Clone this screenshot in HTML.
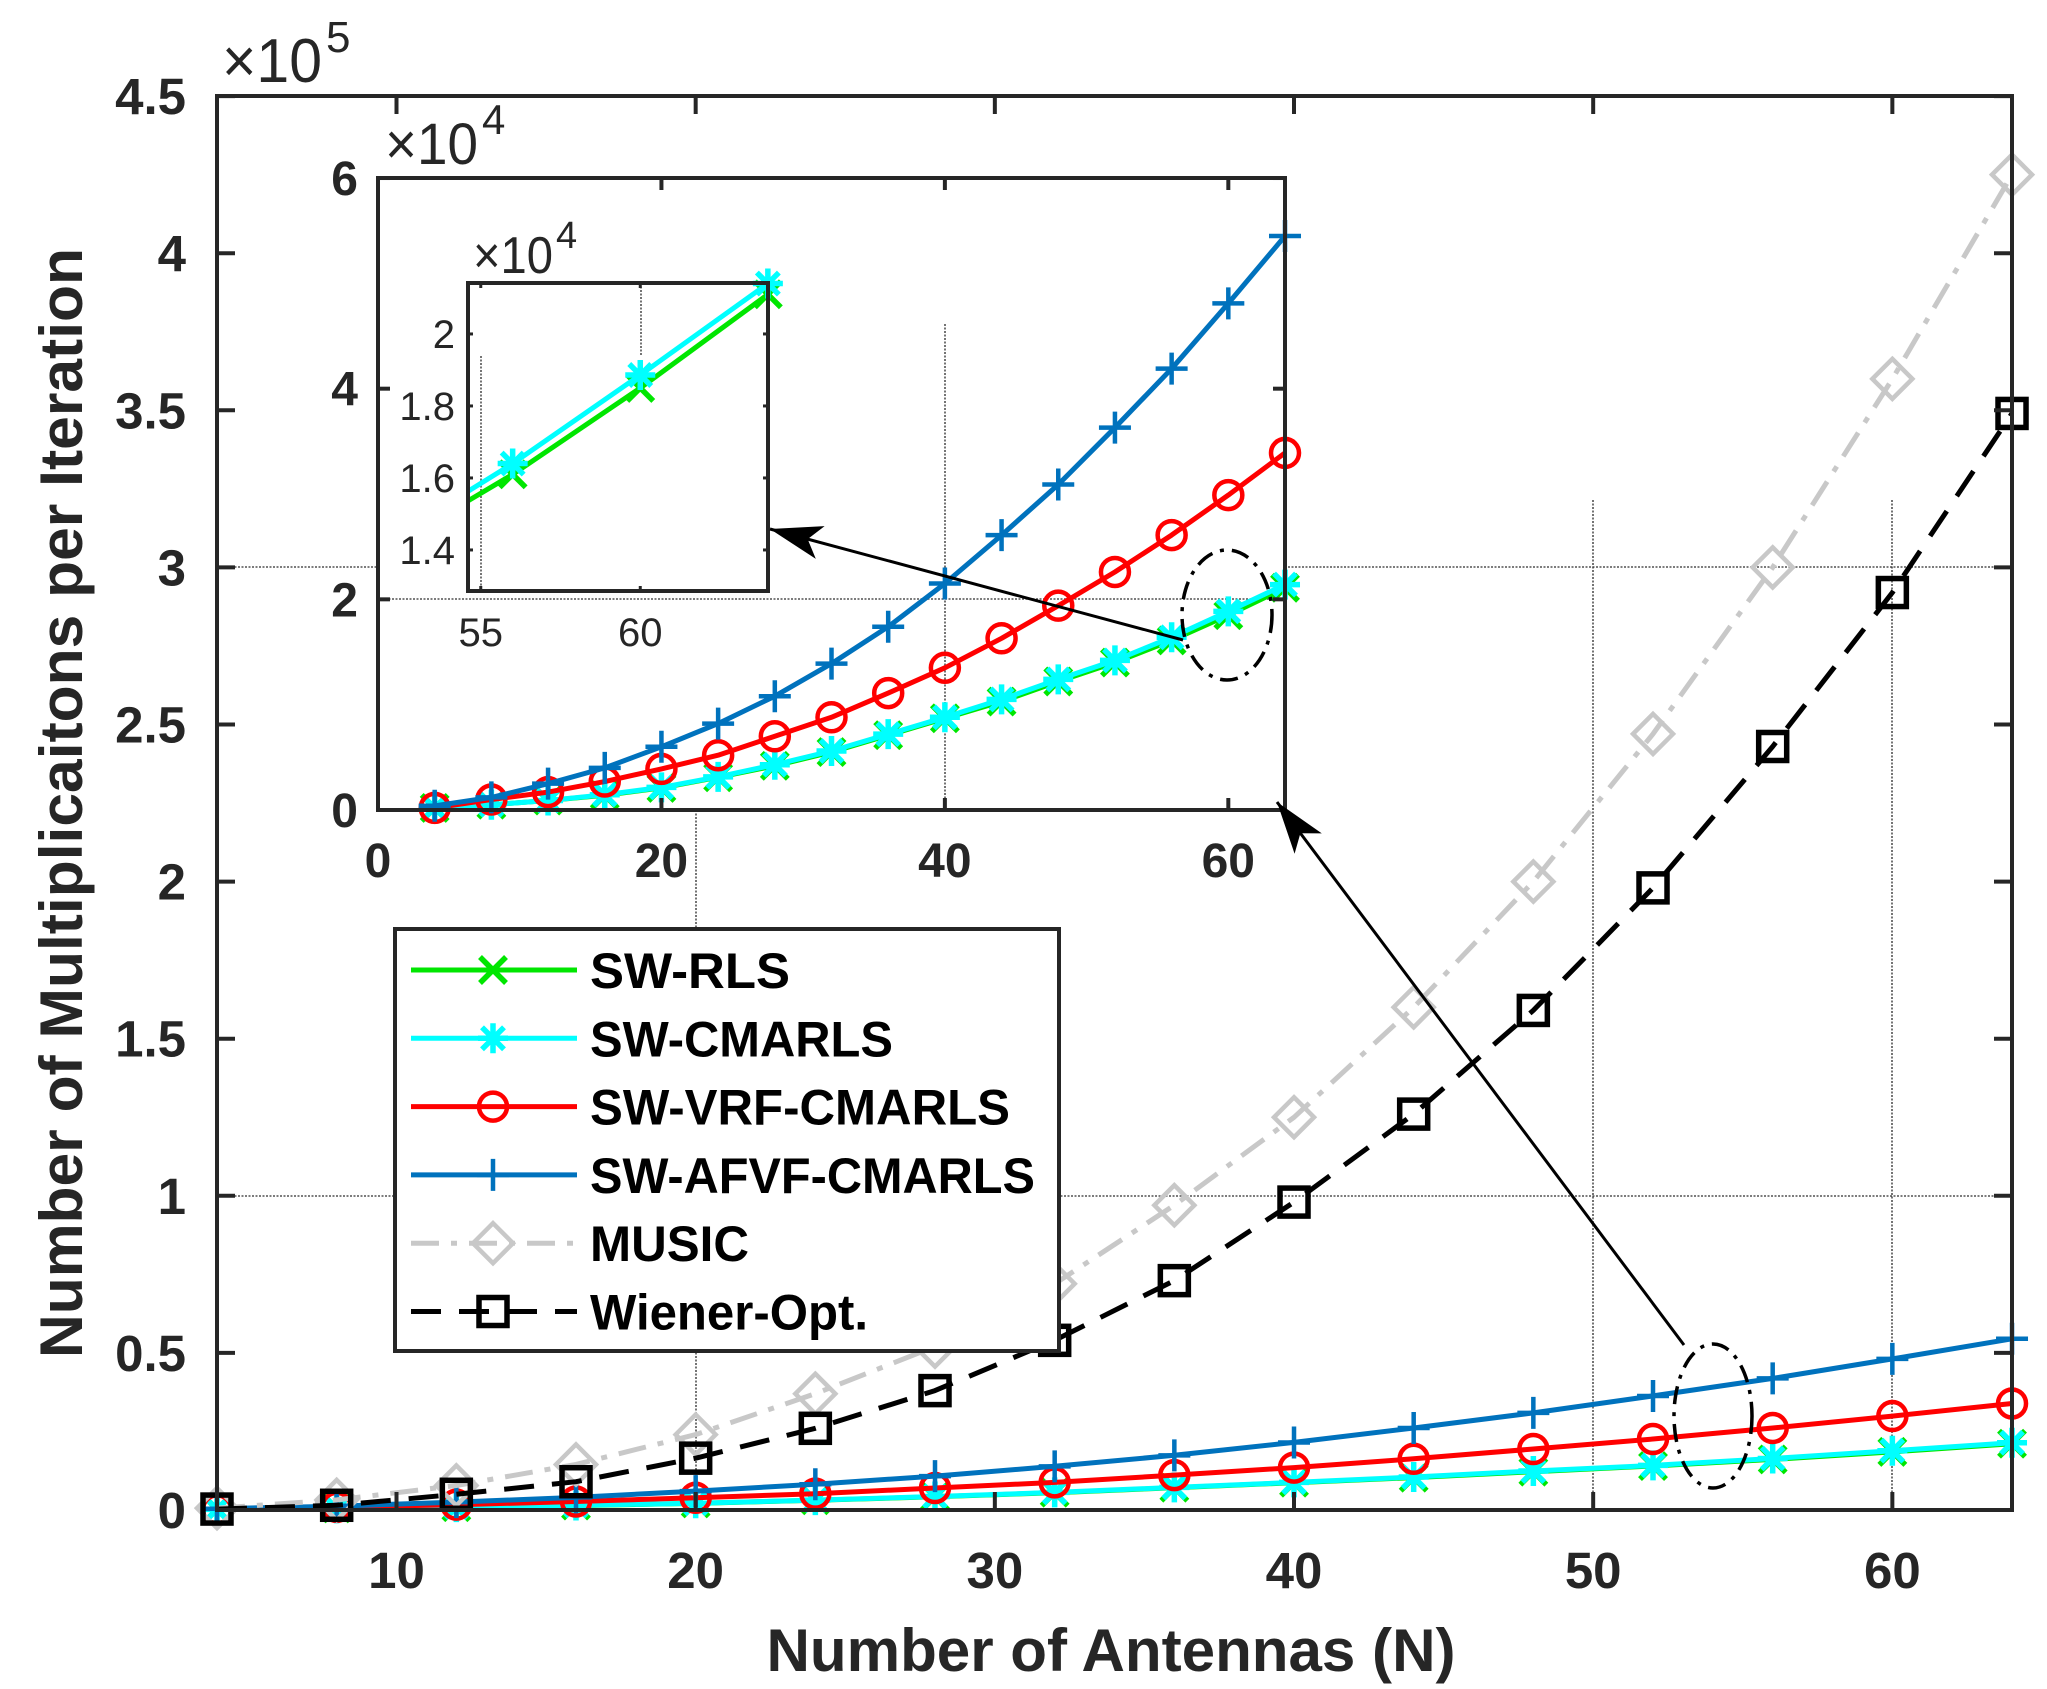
<!DOCTYPE html>
<html><head><meta charset="utf-8"><style>
html,body{margin:0;padding:0;background:#fff;}
svg{display:block;font-family:"Liberation Sans",Arial,sans-serif;}
</style></head><body>
<svg id="s" xmlns="http://www.w3.org/2000/svg" width="2047" height="1689" viewBox="0 0 2047 1689">
<defs>
<clipPath id="cSub"><rect x="468" y="283" width="300" height="308"/></clipPath>
</defs>
<rect width="2047" height="1689" fill="#fff"/>
<g id="g"></g>
</svg>
<script>
const NS="http://www.w3.org/2000/svg";
const G=document.getElementById('g');
function el(t,a,p){const e=document.createElementNS(NS,t);for(const k in a)e.setAttribute(k,a[k]);(p||G).appendChild(e);return e;}
function txt(x,y,s,a){const e=el('text',Object.assign({x:x,y:y,fill:'#262626'},a));e.textContent=s;return e;}
const Ns=[];for(let n=4;n<=64;n+=4)Ns.push(n);
const AF=[0.04,0.12,0.25,0.40,0.60,0.82,1.08,1.39,1.74,2.15,2.61,3.09,3.63,4.19,4.81,5.45];
const VR=[0.02,0.10,0.17,0.27,0.39,0.52,0.70,0.88,1.11,1.35,1.63,1.94,2.26,2.61,2.99,3.39];
const RL=[0.02,0.05,0.09,0.14,0.21,0.31,0.42,0.55,0.71,0.87,1.03,1.22,1.40,1.61,1.85,2.11];
const CM=[0.02,0.05,0.09,0.145,0.215,0.315,0.43,0.56,0.72,0.88,1.05,1.24,1.42,1.64,1.886,2.14];
const MU=[0.006,0.032,0.078,0.145,0.24,0.37,0.52,0.72,0.97,1.25,1.6,2.0,2.47,3.0,3.6,4.25];
const WI=[0.003,0.015,0.05,0.09,0.165,0.26,0.38,0.54,0.73,0.98,1.26,1.59,1.98,2.43,2.92,3.49];
const GREEN='#00e600',CYAN='#00ffff',RED='#ff0000',BLUE='#0072bd',GRAY='#c8c8c8',BLACK='#000';
function marker(type,x,y,c,s,p){
  s=s||1;const w=4.5;
  if(type==='x'){const h=13*s;el('path',{d:`M${x-h},${y-h}L${x+h},${y+h}M${x-h},${y+h}L${x+h},${y-h}`,stroke:c,'stroke-width':w+1,fill:'none'},p);}
  else if(type==='*'){const h=15*s,d=11*s;el('path',{d:`M${x},${y-h}L${x},${y+h}M${x-h},${y}L${x+h},${y}M${x-d},${y-d}L${x+d},${y+d}M${x-d},${y+d}L${x+d},${y-d}`,stroke:c,'stroke-width':w+1,fill:'none'},p);}
  else if(type==='o'){el('circle',{cx:x,cy:y,r:14*s,stroke:c,'stroke-width':w,fill:'none'},p);}
  else if(type==='+'){const h=16*s;el('path',{d:`M${x},${y-h}L${x},${y+h}M${x-h},${y}L${x+h},${y}`,stroke:c,'stroke-width':w,fill:'none'},p);}
  else if(type==='d'){const h=20*s;el('path',{d:`M${x},${y-h}L${x+h},${y}L${x},${y+h}L${x-h},${y}Z`,stroke:c,'stroke-width':w,fill:'none'},p);}
  else if(type==='s'){const h=14*s;el('rect',{x:x-h,y:y-h,width:2*h,height:2*h,stroke:c,'stroke-width':w+1,fill:'none'},p);}
}
function series(xs,ys,X,Y,c,m,dash,clip,ms,mfilter){
  let d='';xs.forEach((n,i)=>{d+=(i?'L':'M')+X(n).toFixed(1)+','+Y(ys[i]).toFixed(1);});
  const a={d:d,stroke:c,'stroke-width':5,fill:'none','stroke-linejoin':'round'};
  if(dash)a['stroke-dasharray']=dash;if(clip)a['clip-path']='url(#'+clip+')';
  el('path',a);
  xs.forEach((n,i)=>{if(!mfilter||mfilter(n))marker(m,X(n),Y(ys[i]),c,ms);});
}
function gl(x1,y1,x2,y2){el('line',{x1:x1,y1:y1,x2:x2,y2:y2,stroke:'#333','stroke-width':1.6,'stroke-dasharray':'2,1.5',opacity:0.85});}
const MX=n=>217+(n-4)*29.917, MY=v=>1510-v*314.2;
gl(217,567,2012,567);gl(217,1196,2012,1196);
gl(696,810,696,1510);gl(1593,500,1593,1510);gl(1892,500,1892,1510);
series(Ns,RL.map(v=>v/10),MX,MY,GREEN,'x');
series(Ns,CM.map(v=>v/10),MX,MY,CYAN,'*');
series(Ns,VR.map(v=>v/10),MX,MY,RED,'o');
series(Ns,AF.map(v=>v/10),MX,MY,BLUE,'+');
series(Ns,MU,MX,MY,GRAY,'d','28,12,6,12');
series(Ns,WI,MX,MY,BLACK,'s','30,18');
el('rect',{x:217,y:96,width:1795,height:1414,fill:'none',stroke:'#262626','stroke-width':4});
const bold={'font-weight':'bold','font-size':51};
[0,0.5,1,1.5,2,2.5,3,3.5,4,4.5].forEach(v=>{const y=MY(v);
  el('line',{x1:217,y1:y,x2:235,y2:y,stroke:'#262626','stroke-width':4});
  el('line',{x1:2012,y1:y,x2:1994,y2:y,stroke:'#262626','stroke-width':4});
  txt(186,y+18,String(v),Object.assign({'text-anchor':'end'},bold));});
[10,20,30,40,50,60].forEach(n=>{const x=MX(n);
  el('line',{x1:x,y1:1510,x2:x,y2:1492,stroke:'#262626','stroke-width':4});
  el('line',{x1:x,y1:96,x2:x,y2:114,stroke:'#262626','stroke-width':4});
  txt(x,1588,String(n),Object.assign({'text-anchor':'middle'},bold));});
txt(222,82,'×10',{'font-size':62,textLength:100,lengthAdjust:'spacingAndGlyphs'});txt(326,52,'5',{'font-size':44});
txt(1111,1671,'Number of Antennas (N)',{'font-weight':'bold','font-size':60,'text-anchor':'middle',textLength:689,lengthAdjust:'spacingAndGlyphs'});
txt(0,0,'Number of Multiplicaitons per Iteration',{'font-weight':'bold','font-size':60,'text-anchor':'middle',transform:'translate(82,803) rotate(-90)',textLength:1110,lengthAdjust:'spacingAndGlyphs'});
el('ellipse',{cx:1713,cy:1416,rx:39,ry:72,fill:'none',stroke:'#000','stroke-width':3.5,'stroke-dasharray':'18,8,4,8'});
function arrow(x1,y1,x2,y2){el('line',{x1:x1,y1:y1,x2:x2,y2:y2,stroke:'#000','stroke-width':3});
  const a=Math.atan2(y2-y1,x2-x1),L=52,W=17;const bx=x2-L*Math.cos(a),by=y2-L*Math.sin(a);
  const px=-Math.sin(a)*W,py=Math.cos(a)*W;
  el('path',{d:`M${x2},${y2}L${bx+px},${by+py}L${bx+L*0.25*Math.cos(a)},${by+L*0.25*Math.sin(a)}L${bx-px},${by-py}Z`,fill:'#000'});}
el('rect',{x:395,y:929,width:664,height:422,fill:'#fff',stroke:'#262626','stroke-width':4});
const leg=[['SW-RLS',GREEN,'x'],['SW-CMARLS',CYAN,'*'],['SW-VRF-CMARLS',RED,'o'],['SW-AFVF-CMARLS',BLUE,'+'],['MUSIC',GRAY,'d','28,12,6,12'],['Wiener-Opt.',BLACK,'s','30,18']];
const lw={'SW-RLS':200,'SW-CMARLS':303,'SW-VRF-CMARLS':420,'SW-AFVF-CMARLS':445,'MUSIC':159,'Wiener-Opt.':278};
leg.forEach((l,i)=>{const y=970+i*68.3;
  const a={x1:411,y1:y,x2:577,y2:y,stroke:l[1],'stroke-width':5};if(l[3])a['stroke-dasharray']=l[3];el('line',a);
  marker(l[2],493,y,l[1]);
  txt(590,y+18,l[0],{'font-weight':'bold','font-size':50,fill:'#000',textLength:lw[l[0]],lengthAdjust:'spacingAndGlyphs'});});
const IX=n=>378+n*14.172, IY=v=>810-v*105.33;
el('rect',{x:378,y:178,width:907,height:632,fill:'#fff'});
gl(378,599,1285,599);gl(945,324,945,810);
series(Ns,RL,IX,IY,GREEN,'x');
series(Ns,CM,IX,IY,CYAN,'*');
series(Ns,VR,IX,IY,RED,'o');
series(Ns,AF,IX,IY,BLUE,'+');
el('rect',{x:378,y:178,width:907,height:632,fill:'none',stroke:'#262626','stroke-width':4});
const bold2={'font-weight':'bold','font-size':48};
[0,2,4,6].forEach(v=>{const y=IY(v);
  el('line',{x1:378,y1:y,x2:390,y2:y,stroke:'#262626','stroke-width':4});
  el('line',{x1:1285,y1:y,x2:1273,y2:y,stroke:'#262626','stroke-width':4});
  txt(358,y+17,String(v),Object.assign({'text-anchor':'end'},bold2));});
[0,20,40,60].forEach(n=>{const x=IX(n);
  el('line',{x1:x,y1:810,x2:x,y2:798,stroke:'#262626','stroke-width':4});
  el('line',{x1:x,y1:178,x2:x,y2:190,stroke:'#262626','stroke-width':4});
  txt(x,877,String(n),Object.assign({'text-anchor':'middle'},bold2));});
txt(385,164,'×10',{'font-size':58,textLength:93,lengthAdjust:'spacingAndGlyphs'});txt(482,134,'4',{'font-size':42});
el('ellipse',{cx:1227,cy:615,rx:45,ry:65,fill:'none',stroke:'#000','stroke-width':3.5,'stroke-dasharray':'18,8,4,8'});
const SX=n=>468+(n-54.6)*31.9, SY=v=>591-(v-1.286)*360;
el('rect',{x:468,y:283,width:300,height:308,fill:'#fff'});
gl(481,356,481,591);gl(641,283,641,356);
const sN=[52,56,60,64],sR=[1.40,1.61,1.85,2.11],sC=[1.42,1.64,1.886,2.14];
series(sN,sR,SX,SY,GREEN,'x',null,'cSub',1,n=>n>=56);
series(sN,sC,SX,SY,CYAN,'*',null,'cSub',1,n=>n>=56);
el('rect',{x:468,y:283,width:300,height:308,fill:'none',stroke:'#262626','stroke-width':4});
const reg={'font-size':40};
[[1.4,'1.4'],[1.6,'1.6'],[1.8,'1.8'],[2,'2']].forEach(t=>{const y=SY(t[0]);
  el('line',{x1:468,y1:y,x2:473,y2:y,stroke:'#262626','stroke-width':3});
  el('line',{x1:768,y1:y,x2:763,y2:y,stroke:'#262626','stroke-width':3});
  txt(455,y+14,t[1],Object.assign({'text-anchor':'end'},reg));});
[55,60].forEach(n=>{const x=SX(n);
  el('line',{x1:x,y1:591,x2:x,y2:586,stroke:'#262626','stroke-width':3});
  el('line',{x1:x,y1:283,x2:x,y2:288,stroke:'#262626','stroke-width':3});
  txt(x,646,String(n),Object.assign({'text-anchor':'middle'},reg));});
txt(473,273,'×10',{'font-size':52,textLength:80,lengthAdjust:'spacingAndGlyphs'});txt(556,248,'4',{'font-size':38});
arrow(1684,1345,1277,802);
arrow(1183,640,770,529);
</script>
</body></html>
